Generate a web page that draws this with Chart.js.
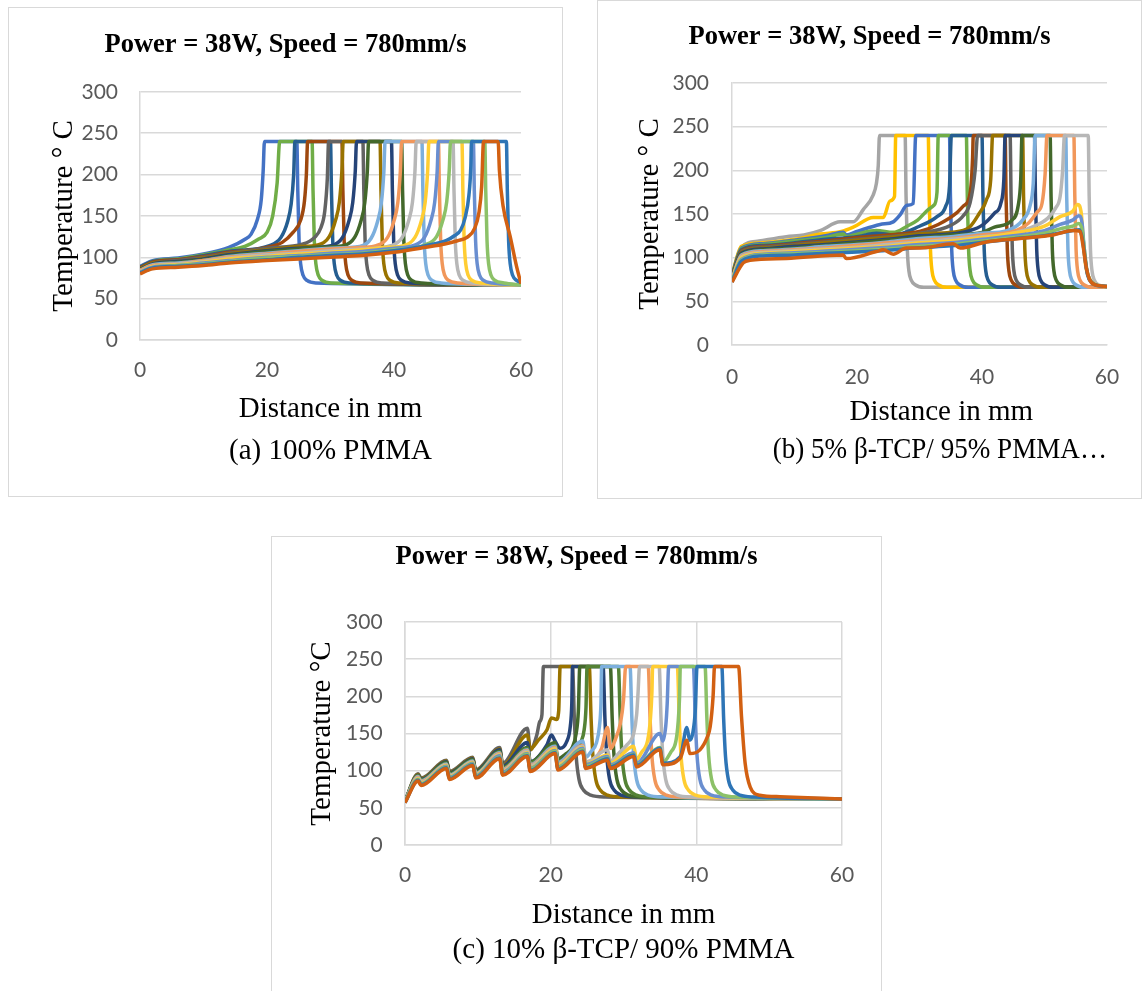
<!DOCTYPE html>
<html>
<head>
<meta charset="utf-8">
<script src="https://cdn.jsdelivr.net/npm/chart.js@4.4.1/dist/chart.umd.min.js"></script>
<style>
  body { margin: 0; background: #fff; width: 1142px; height: 991px; position: relative; overflow: hidden; }
  .box { position: absolute; border: 1px solid #d9d9d9; background: #fff; }
  .box canvas { display: block; }
</style>
</head>
<body>
<div class="box" style="left:8px;top:7px;width:553px;height:488px"><canvas id="chartA" width="553" height="488"></canvas></div>
<div class="box" style="left:597px;top:0px;width:543px;height:497px"><canvas id="chartB" width="543" height="497"></canvas></div>
<div class="box" style="left:271px;top:536px;width:609px;height:468px"><canvas id="chartC" width="609" height="468"></canvas></div>
<script>
// ---- (a) 100% PMMA : [distance mm, temperature C] ----
var a01 = [[0,89],[2,96],[6,99],[10,104],[14,112],[16.6,122],[17.5,128],[18.5,146],[19.1,170],[19.4,205],[19.6,240],[24.7,240],[24.85,180],[25.05,120],[25.3,92],[25.7,78],[26.3,72],[27.7,69],[60,66.5]];
var a02 = [[0,88],[2,95],[6,98],[10,103],[14,109],[16.5,113],[18.7,122],[20,130],[20.9,150],[21.6,190],[22,240],[27.1,240],[27.25,180],[27.45,120],[27.7,92],[28.1,78],[28.7,72],[30.1,69],[60,66.5]];
var a03 = [[0,88],[2,95],[6,97],[10,102],[14,107],[20.4,114],[22.2,124],[23.2,142],[23.8,164],[24.2,200],[24.4,240],[30,240],[30.15,180],[30.35,120],[30.6,92],[31,78],[31.6,72],[33,69],[60,66.5]];
var a04 = [[0,87],[2,94],[6,97],[10,101],[14,106],[20,112],[22.4,118],[24.1,130],[25.3,145],[25.9,168],[26.2,200],[26.4,240],[31.8,240],[31.95,180],[32.15,120],[32.4,92],[32.8,78],[33.4,72],[34.8,69],[60,66.5]];
var a05 = [[0,86],[2,93],[6,96],[10,100],[14,105],[20,111],[25.7,116],[27.5,124],[28.5,136],[29.1,156],[29.5,195],[29.7,240],[35.1,240],[35.25,180],[35.45,120],[35.7,92],[36.1,78],[36.7,72],[38.1,69],[60,66.5]];
var a06 = [[0,86],[2,93],[6,95],[10,99],[14,104],[20,109],[25,113],[28,115],[29.8,125],[30.8,145],[31.4,167],[31.8,205],[32,240],[37.8,240],[37.95,180],[38.15,120],[38.4,92],[38.8,78],[39.4,72],[40.8,69],[60,66.5]];
var a07 = [[0,85],[2,92],[6,95],[10,98],[14,103],[20,108],[25,111],[30.1,114],[31.9,124],[32.9,144],[33.5,166],[33.9,204],[34.1,240],[39.6,240],[39.75,180],[39.95,120],[40.2,92],[40.6,78],[41.2,72],[42.6,69],[60,66.5]];
var a08 = [[0,85],[2,91],[6,94],[10,97],[14,102],[20,107],[25,110],[28,112],[32,114],[33.8,124],[34.8,144],[35.4,166],[35.8,204],[36,240],[41.2,240],[41.35,180],[41.55,120],[41.8,92],[42.2,78],[42.8,72],[44.2,69],[60,66.5]];
var a09 = [[0,84],[2,91],[6,93],[10,96],[14,101],[20,105],[25,108],[30,111],[34.6,113],[36.4,123],[37.4,143],[38,165],[38.4,203],[38.6,240],[44.4,240],[44.55,180],[44.75,120],[45,92],[45.4,78],[46,72],[47.4,69],[60,66.5]];
var a10 = [[0,84],[2,90],[6,92],[10,96],[14,100],[20,104],[25,107],[30,110],[35,112],[37.2,114],[39,124],[40,144],[40.6,166],[41,204],[41.2,240],[47,240],[47.15,180],[47.35,120],[47.6,92],[48,78],[48.6,72],[50,69],[60,66.5]];
var a11 = [[0,83],[2,89],[6,92],[10,95],[14,99],[20,103],[25,105],[30,108],[35,110],[39.5,114],[41.3,124],[42.3,144],[42.9,166],[43.3,204],[43.5,240],[49.3,240],[49.45,180],[49.65,120],[49.9,92],[50.3,78],[50.9,72],[52.3,69],[60,66.5]];
var a12 = [[0,82],[2,89],[6,91],[10,94],[14,98],[20,101],[25,104],[30,106],[35,109],[39,112],[41.5,114],[43.3,124],[44.3,144],[44.9,166],[45.3,204],[45.5,240],[50.7,240],[50.85,180],[51.05,120],[51.3,92],[51.7,78],[52.3,72],[53.7,69],[60,66.5]];
var a13 = [[0,82],[2,88],[6,90],[10,93],[14,96],[20,100],[25,102],[30,105],[35,107],[40,111],[43,114],[44.8,124],[45.8,144],[46.4,166],[46.8,204],[47,240],[52.5,240],[52.65,180],[52.85,120],[53.1,92],[53.5,78],[54.1,72],[55.5,69],[60,66.5]];
var a14 = [[0,81],[2,87],[6,90],[10,92],[14,95],[20,99],[25,101],[30,103],[35,105],[40,109],[44.9,115],[46.7,125],[47.7,145],[48.3,167],[48.7,205],[48.9,240],[54.3,240],[54.45,180],[54.65,120],[54.9,92],[55.3,78],[55.9,72],[57.3,69],[60,66.5]];
var a15 = [[0,81],[2,87],[6,89],[10,91],[14,94],[20,97],[25,100],[30,102],[35,104],[40,108],[45,114],[48.2,120],[49.5,126],[50.5,133],[51.2,148],[51.8,175],[52.1,210],[52.2,240],[57.7,240],[57.85,180],[58.05,120],[58.3,92],[58.7,78],[59.3,72],[60,69.5]];
var a16 = [[0,80],[2,86],[6,88],[10,90],[14,93],[20,96],[25,98],[30,100],[35,102],[40,106],[45,112],[48,116],[50,120],[51.5,124],[52.7,135],[53.4,155],[53.8,185],[54.1,240],[56.4,240],[56.6,205],[57.2,161],[58.3,125],[59.3,89],[60,68]];
var seriesA = [a01,a02,a03,a04,a05,a06,a07,a08,a09,a10,a11,a12,a13,a14,a15,a16];
var colorsA = ['#4472C4','#70AD47','#255E91','#9E480E','#636363','#997300','#264478','#43682B','#7CAFDD','#F1975A','#B7B7B7','#FFCD33','#698ED0','#8CC168','#2E75B6','#D26012'];

// ---- (b) 5% b-TCP / 95% PMMA ----
var b01 = [[0,80],[1.5,112],[4.3,119],[8.7,124],[11.5,126],[14.1,131],[17.3,141],[19.4,141],[21,155],[22.6,172],[23.1,185],[23.4,205],[23.6,240],[27.7,240],[27.85,170],[28.05,110],[28.3,85],[28.7,74],[29.3,69],[30.7,66],[60,66.5]];
var b02 = [[0,80],[1.5,113],[5,117],[10,121],[14.1,127],[17.5,130],[19.4,135],[22.6,146],[24.2,146],[25.3,165],[26,170],[26.2,240],[31.4,240],[31.55,170],[31.75,110],[32,85],[32.4,74],[33,69],[34.4,66],[60,66.5]];
var b03 = [[0,79],[1.5,111],[5,116],[10,120],[15,125],[17.8,129],[18.3,126],[20,130],[23.7,138],[25.8,141],[26.9,149],[28,160],[29,162],[29.4,240],[34.8,240],[34.95,170],[35.15,110],[35.4,85],[35.8,74],[36.4,69],[37.8,66],[60,66.5]];
var b04 = [[0,79],[1.5,110],[5,115],[10,119],[15,123],[17.8,127],[18.3,124],[20,127],[23.1,131],[25.8,129],[28,136],[29.7,143],[31.4,155],[32.3,160],[32.8,175],[33,240],[37.5,240],[37.65,170],[37.85,110],[38.1,85],[38.5,74],[39.1,69],[40.5,66],[60,66.5]];
var b05 = [[0,78],[1.5,109],[5,114],[10,117],[15,121],[20,124],[23.1,128],[25.8,126],[30,136],[32.8,147],[34.2,159],[34.8,182],[35.1,240],[40,240],[40.15,170],[40.35,110],[40.6,85],[41,74],[41.6,69],[43,66],[60,66.5]];
var b06 = [[0,78],[1.5,108],[5,113],[10,116],[15,119],[20,123],[25,126],[30,130],[33,138],[35.9,151],[37,159],[38.1,174],[38.5,215],[38.6,240],[43.7,240],[43.85,170],[44.05,110],[44.3,85],[44.7,74],[45.3,69],[46.7,66],[60,66.5]];
var b07 = [[0,77],[1.5,107],[5,112],[10,115],[15,118],[20,121],[25,124],[30,128],[35,137],[37,148],[38.1,163],[38.9,200],[39.3,240],[44.5,240],[44.65,170],[44.85,110],[45.1,85],[45.5,74],[46.1,69],[47.5,66],[60,66.5]];
var b08 = [[0,77],[1.5,106],[5,111],[10,114],[15,117],[20,120],[25,123],[30,127],[35,129],[38,135],[39.5,150],[40.7,166],[41.4,190],[41.7,240],[46.5,240],[46.65,170],[46.85,110],[47.1,85],[47.5,74],[48.1,69],[49.5,66],[60,66.5]];
var b09 = [[0,76],[1.5,105],[5,110],[10,113],[15,115],[20,118],[25,121],[30,125],[35,127],[38,131],[40,137],[42,151],[43,162],[43.5,190],[43.7,240],[48.4,240],[48.55,170],[48.75,110],[49,85],[49.4,74],[50,69],[51.4,66],[60,66.5]];
var b10 = [[0,76],[1.5,104],[5,109],[10,111],[15,114],[20,117],[25,120],[30,123],[35,126],[40,129],[42,135],[44.8,143],[45.8,160],[46.2,190],[46.4,240],[50.9,240],[51.05,170],[51.25,110],[51.5,85],[51.9,74],[52.5,69],[53.9,66],[60,66.5]];
var b11 = [[0,75],[1.5,103],[5,108],[10,110],[15,113],[20,115],[25,118],[30,122],[35,124],[40,128],[44,131],[46.5,143],[47.7,160],[48.2,185],[48.5,240],[53.4,240],[53.55,170],[53.75,110],[54,85],[54.4,74],[55,69],[56.4,66],[60,66.5]];
var b12 = [[0,75],[1.5,102],[5,107],[10,109],[15,111],[20,114],[25,117],[30,120],[35,122],[40,126],[45,130],[47.5,140],[48.8,152],[49.6,162],[50.1,196],[50.4,240],[54.7,240],[54.85,170],[55.05,110],[55.3,85],[55.7,74],[56.3,69],[57.7,66],[60,66.5]];
var b13 = [[0,74],[1.5,101],[5,106],[10,108],[15,110],[20,112],[25,115],[30,118],[35,121],[40,124],[45,128],[48,135],[50.5,145],[51.8,157],[52.5,170],[52.9,200],[53.2,240],[57,240],[57.15,170],[57.35,110],[57.6,85],[58,74],[58.6,69],[60,67]];
var b14 = [[0,74],[1.5,100],[5,105],[10,107],[15,109],[20,111],[25,113],[30,117],[35,119],[40,123],[45,128],[50,136],[52.5,147],[54.5,153],[55.3,161],[55.9,150],[56.2,120],[56.6,90],[57.2,76],[58,70],[59,67.5],[60,67]];
var b15 = [[0,73],[1.5,98],[5,104],[10,105.5],[15,107.5],[20,109.5],[25,112],[30,115],[35,117],[40,121],[45,125],[50,131],[52.5,138],[54.5,143],[55.5,148],[56,140],[56.3,115],[56.7,88],[57.2,75],[58,69],[60,67]];
var b16 = [[0,73],[1.5,97],[5,103],[10,104.5],[15,106],[20,108],[25,110],[30,113],[35,115],[40,119],[45,123],[50,128],[52.5,133],[54.5,136],[55.5,139],[56,132],[56.4,108],[56.8,85],[57.3,74],[58.2,69],[60,67]];
var b17 = [[0,72],[1.5,96],[5,102],[10,103],[15,105],[20,106.5],[25,108.5],[30,111.5],[35,113.5],[40,117.5],[45,121.5],[50,125],[54.5,131],[55.6,132],[56.1,120],[56.5,98],[56.9,80],[57.5,72],[58.5,68],[60,67]];
var b18 = [[0,72],[1.8,94],[2.9,97],[8.7,99],[17.8,103],[18.3,99],[23.1,107],[24.2,109],[25.8,104],[27.9,111],[30.1,111],[35.4,116],[36.5,111],[40.7,118],[46.1,122],[51.4,126],[54.6,131],[55.7,130],[56.2,112],[56.7,88],[57.2,75],[58,69],[60,67]];
var seriesB = [b01,b02,b03,b04,b05,b06,b07,b08,b09,b10,b11,b12,b13,b14,b15,b16,b17,b18];
var colorsB = ['#A5A5A5','#FFC000','#4472C4','#70AD47','#255E91','#9E480E','#636363','#997300','#264478','#43682B','#7CAFDD','#F1975A','#B7B7B7','#FFCD33','#698ED0','#8CC168','#2E75B6','#D26012'];

// ---- (c) 10% b-TCP / 90% PMMA ----
var c01 = [[0,59],[1.8,96],[2.2,90],[5.7,114],[6.1,99],[9.3,118],[9.7,101],[13,131],[13.4,110],[16.8,157],[17.2,128],[18.1,148],[18.5,166],[18.8,175],[19,240],[23,240],[23.25,170],[23.5,120],[23.9,88],[24.5,74],[25.5,67],[27.5,64.5],[60,62]];
var c02 = [[0,59],[1.8,95],[2.2,89],[5.7,113],[6.1,98],[9.3,117],[9.7,100],[13,129],[13.4,107],[16.8,148],[17.2,128],[17.6,132],[18.3,141],[19.5,155],[20.1,171],[20.8,169],[21.1,180],[21.3,240],[25.3,240],[25.55,170],[25.8,120],[26.2,88],[26.8,74],[27.8,67],[29.8,64.5],[60,62]];
var c03 = [[0,59],[1.8,94],[2.2,88],[5.7,112],[6.1,97],[9.3,116],[9.7,99],[13,128],[13.4,106],[16.8,138],[17.2,112],[19.5,135],[20.1,148],[20.6,140],[21.3,130],[22.2,139],[22.7,160],[22.9,190],[23,240],[27.2,240],[27.45,170],[27.7,120],[28.1,88],[28.7,74],[29.7,67],[31.7,64.5],[60,62]];
var c04 = [[0,59],[1.8,93],[2.2,87],[5.7,111],[6.1,96],[9.3,115],[9.7,98],[13,126],[13.4,104],[16.8,131],[17.2,111],[20.6,138],[21,116],[22,122],[23,132],[23.5,150],[23.8,180],[24,240],[28.2,240],[28.45,170],[28.7,120],[29.1,88],[29.7,74],[30.7,67],[32.7,64.5],[60,62]];
var c05 = [[0,59],[1.8,93],[2.2,87],[5.7,110],[6.1,95],[9.3,114],[9.7,97],[13,125],[13.4,103],[16.8,130],[17.2,110],[20.6,134],[21,112],[23,125],[24.2,140],[24.6,155],[24.85,185],[25,240],[29.3,240],[29.55,170],[29.8,120],[30.2,88],[30.8,74],[31.8,67],[33.8,64.5],[60,62]];
var c06 = [[0,59],[1.8,92],[2.2,86],[5.7,109],[6.1,94],[9.3,113],[9.7,96],[13,124],[13.4,102],[16.8,128],[17.2,108],[20.6,133],[21,111],[24.4,140],[24.8,118],[25.5,125],[26.3,138],[26.7,160],[26.9,190],[27,240],[30.9,240],[31.15,170],[31.4,120],[31.8,88],[32.4,74],[33.4,67],[35.4,64.5],[60,62]];
var c07 = [[0,58],[1.8,91],[2.2,85],[5.7,108],[6.1,93],[9.3,112],[9.7,95],[13,123],[13.4,101],[16.8,127],[17.2,107],[20.6,131],[21,109],[24.4,134],[24.8,112],[27,130],[27.8,158],[28.2,130],[29,145],[29.6,165],[30,195],[30.3,240],[33.4,240],[33.65,170],[33.9,120],[34.3,88],[34.9,74],[35.9,67],[37.9,64.5],[60,62]];
var c08 = [[0,58],[1.8,90],[2.2,84],[5.7,108],[6.1,93],[9.3,112],[9.7,95],[13,122],[13.4,100],[16.8,126],[17.2,106],[20.6,130],[21,108],[24.4,133],[24.8,111],[27.8,128],[28.2,113],[29.5,125],[30.5,135],[31.4,150],[31.8,175],[32,205],[32.2,240],[34.9,240],[35.15,170],[35.4,120],[35.8,88],[36.4,74],[37.4,67],[39.4,64.5],[60,62]];
var c09 = [[0,58],[1.8,89],[2.2,83],[5.7,107],[6.1,92],[9.3,111],[9.7,94],[13,121],[13.4,99],[16.8,124],[17.2,104],[20.6,129],[21,107],[24.4,131],[24.8,109],[27.8,121],[28.2,110],[31.4,133],[31.8,115],[32.5,125],[33.3,140],[33.7,170],[33.9,205],[34,240],[37.4,240],[37.65,170],[37.9,120],[38.3,88],[38.9,74],[39.9,67],[41.9,64.5],[60,62]];
var c10 = [[0,58],[1.8,88],[2.2,82],[5.7,106],[6.1,91],[9.3,110],[9.7,93],[13,120],[13.4,98],[16.8,123],[17.2,103],[20.6,127],[21,105],[24.4,130],[24.8,108],[27.8,119],[28.2,108],[31.4,124],[31.8,110],[35,150],[35.4,140],[35.8,160],[36,190],[36.2,240],[39.6,240],[39.85,170],[40.1,120],[40.5,88],[41.1,74],[42.1,67],[44.1,64.5],[60,62]];
var c11 = [[0,58],[1.8,88],[2.2,82],[5.7,105],[6.1,90],[9.3,109],[9.7,92],[13,118],[13.4,96],[16.8,122],[17.2,102],[20.6,126],[21,104],[24.4,128],[24.8,106],[27.8,117],[28.2,106],[31.4,122],[31.8,108],[35,131],[35.4,111],[36.5,125],[37.2,140],[37.5,165],[37.7,200],[37.8,240],[41.2,240],[41.45,170],[41.7,120],[42.1,88],[42.7,74],[43.7,67],[45.7,64.5],[60,62]];
var c12 = [[0,57],[1.8,87],[2.2,81],[5.7,104],[6.1,89],[9.3,108],[9.7,91],[13,117],[13.4,95],[16.8,120],[17.2,100],[20.6,124],[21,102],[24.4,126],[24.8,104],[27.8,116],[28.2,105],[31.4,121],[31.8,107],[35,130],[35.4,110],[37.8,119],[38.7,158],[39.1,141],[39.5,150],[39.85,180],[40.1,240],[43.5,240],[43.75,170],[44,120],[44.4,88],[45,74],[46,67],[48,64.5],[60,62]];
var c13 = [[0,57],[1.8,86],[2.2,80],[5.7,103],[6.1,88],[9.3,107],[9.7,90],[13,116],[13.4,94],[16.8,119],[17.2,99],[20.6,123],[21,101],[24.4,125],[24.8,103],[27.8,114],[28.2,103],[31.4,119],[31.8,105],[35,128],[35.4,108],[37.8,117],[38.7,141],[39.1,123],[40.5,128],[41.5,145],[41.9,159],[42.3,200],[42.5,240],[45.8,240],[46.2,173],[46.7,110],[47.4,78],[48.7,67],[51.5,65],[60,62]];
var seriesC = [c01,c02,c03,c04,c05,c06,c07,c08,c09,c10,c11,c12,c13];
var colorsC = ['#636363','#997300','#264478','#43682B','#548235','#7CAFDD','#F1975A','#B7B7B7','#FFCD33','#698ED0','#8CC168','#2E75B6','#D26012'];

var chartTitle = 'Power = 38W, Speed = 780mm/s';
var xTitle = 'Distance in mm';

Chart.defaults.font.family = 'Lato';

function makeChart(id, series, colors, o) {
  var datasets = series.map(function (pts, i) {
    return {
      data: pts.map(function (p) { return { x: p[0], y: p[1] }; }),
      borderColor: colors[i],
      borderWidth: 3.5,
      pointRadius: 0,
      cubicInterpolationMode: 'monotone',
      fill: false,
      order: series.length - i
    };
  });
  var tickFont = { family: 'Lato', size: 21 };
  var gridCol = '#d9d9d9';
  var serif = 'Liberation Serif';
  return new Chart(document.getElementById(id), {
    type: 'line',
    data: { datasets: datasets },
    options: {
      responsive: false,
      animation: false,
      events: [],
      layout: { padding: 0 },
      plugins: {
        legend: { display: false },
        tooltip: { enabled: false },
        title: {
          display: true, text: chartTitle, color: '#000',
          font: { family: serif, size: 26.5, weight: 'bold' },
          padding: { top: o.t1, bottom: o.t2 }
        },
        subtitle: {
          display: true, position: 'bottom', fullSize: false, text: o.caption, color: '#000',
          font: { family: serif, size: 29 },
          padding: { top: o.spt, bottom: o.spb }
        }
      },
      scales: {
        x: {
          type: 'linear', min: 0, max: 60,
          ticks: { stepSize: 20, color: '#595959', font: tickFont, padding: o.xtp, maxRotation: 0 },
          grid: { display: o.vgrid, color: gridCol, lineWidth: 1.5, drawTicks: false },
          border: { display: true, color: gridCol, width: 1.5 },
          title: { display: true, text: o.xTitle, color: '#000', font: { family: serif, size: 29 }, padding: { top: 0, bottom: o.xpb } },
          afterFit: function (s) { s.height = o.xh; }
        },
        y: {
          min: 0, max: 300,
          ticks: { stepSize: 50, color: '#595959', font: tickFont, padding: o.ytp },
          grid: { color: gridCol, lineWidth: 1.5, drawTicks: false },
          border: { display: true, color: gridCol, width: 1.5 },
          title: { display: true, text: o.yTitle, color: '#000', font: { family: serif, size: 29 }, padding: { top: o.ypt, bottom: 0 } },
          afterFit: function (s) { s.width = o.yw; }
        },
        yRight: {
          type: 'linear', axis: 'y', position: 'right',
          ticks: { display: false }, grid: { display: false }, border: { display: false },
          afterFit: function (s) { s.width = o.rw; }
        }
      }
    }
  });
}

makeChart('chartA', seriesA, colorsA, {
  caption: '(a) 100% PMMA', xTitle: xTitle, yTitle: 'Temperature \u00b0 C',
  t1: 21, t2: 31, spt: 4.6, spb: 27.6, xtp: 18, xpb: 2, xh: 89, ytp: 22, ypt: 37.6, yw: 131, rw: 41, vgrid: false
});
makeChart('chartB', seriesB, colorsB, {
  caption: '      (b) 5% \u03b2-TCP/ 95% PMMA\u2026', xTitle: '      ' + xTitle, yTitle: 'Temperature \u00b0 C',
  t1: 20.6, t2: 29.6, spt: 0.6, spb: 30.6, xtp: 19.4, xpb: 2, xh: 87, ytp: 23, ypt: 34.6, yw: 134, rw: 34, vgrid: false
});
makeChart('chartC', seriesC, colorsC, {
  caption: '(c) 10% \u03b2-TCP/ 90% PMMA', xTitle: xTitle, yTitle: 'Temperature \u00b0C',
  t1: 4.4, t2: 48.8, spt: 0.2, spb: 37.6, xtp: 17.4, xpb: 0, xh: 87.4, ytp: 22.4, ypt: 33, yw: 133, rw: 39, vgrid: true
});
</script>
</body>
</html>
